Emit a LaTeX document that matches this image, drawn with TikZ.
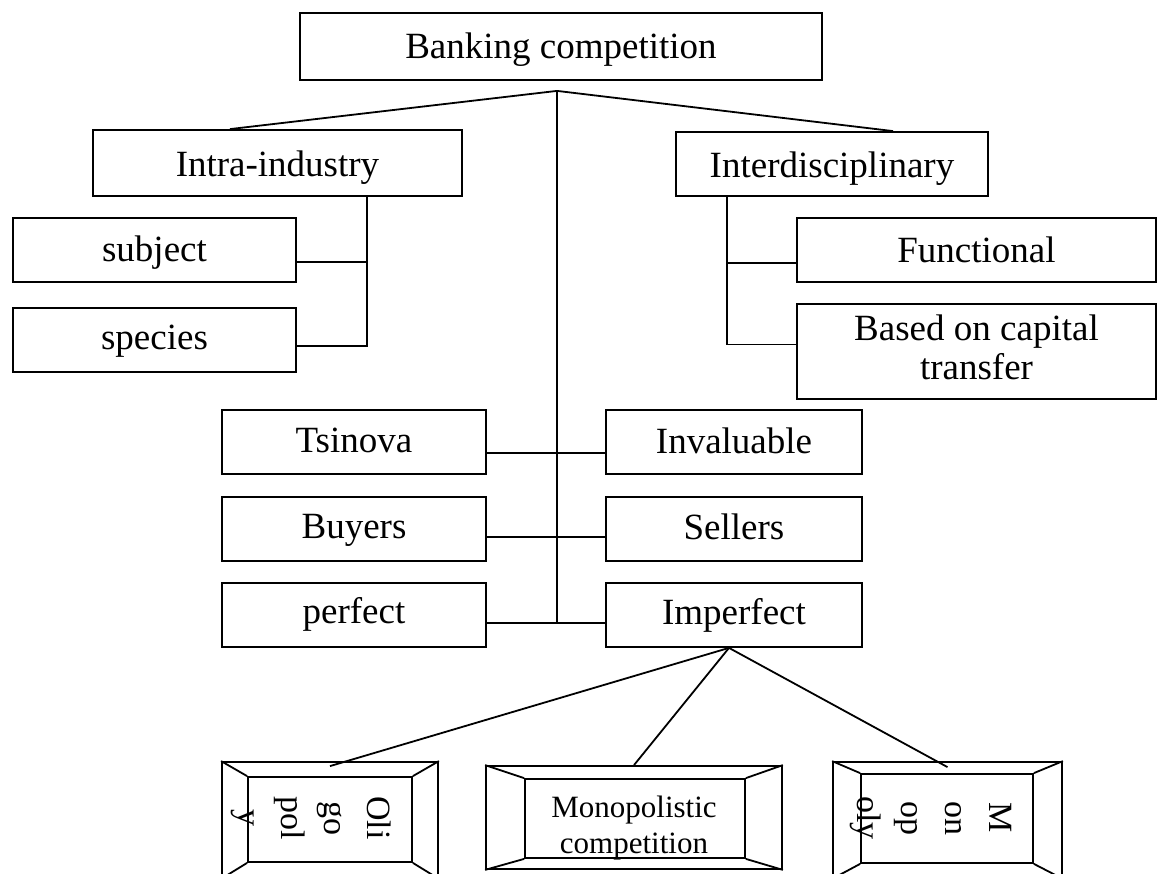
\documentclass[tikz,border=0pt]{standalone}
\usepackage{fontspec}
\setmainfont{Liberation Serif}
\usetikzlibrary{calc}
\begin{document}
\begin{tikzpicture}[x=1pt,y=-1pt,
  box/.style={draw, line width=1.8pt, inner sep=0pt, align=center,
    font=\fontsize{37}{39}\selectfont},
  tb/.style={text height=#1, text depth=2pt},
  tb/.default=26pt,
  link/.style={line width=1.8pt},
  frame/.style={draw, line width=1.8pt, inner sep=0pt},
  vtext/.style={rotate=-90, inner sep=0pt, align=center},
]
\useasboundingbox (0,0) rectangle (1168,874);

% top level
\node[box, tb=27pt, minimum width=522pt, minimum height=67pt] (bank) at (561,46.5) {Banking competition};
\node[box, tb=30pt, minimum width=369pt, minimum height=66pt] (intra) at (277.5,163) {Intra-industry};
\node[box, tb=30pt, minimum width=312pt, minimum height=64pt] (inter) at (832,164) {Interdisciplinary};

% second level
\node[box, tb=26pt, minimum width=283pt, minimum height=64pt] (subj) at (154.5,250) {subject};
\node[box, tb=22pt, minimum width=283pt, minimum height=64pt] (spec) at (154.5,340) {species};
\node[box, tb=28pt, minimum width=359pt, minimum height=64pt] (func) at (976.5,250) {Functional};
\node[box, minimum width=359pt, minimum height=95pt] (based) at (976.5,351.5) {};
\node[inner sep=0pt, align=center, font=\fontsize{37}{39}\selectfont] (basedt)
  at ([yshift=4pt]based.center) {Based on capital\\transfer};

% pairs along the trunk
\node[box, tb=24pt, minimum width=264pt, minimum height=64pt] (tsin) at (354,442) {Tsinova};
\node[box, tb=26pt, minimum width=256pt, minimum height=64pt] (inv)  at (734,442) {Invaluable};
\node[box, tb=20pt, minimum width=264pt, minimum height=64pt] (buy)  at (354,529) {Buyers};
\node[box, tb=22pt, minimum width=256pt, minimum height=64pt] (sell) at (734,529) {Sellers};
\node[box, tb=18pt, minimum width=264pt, minimum height=64pt] (perf) at (354,615) {perfect};
\node[box, tb=20pt, minimum width=256pt, minimum height=64pt] (imp)  at (734,615) {Imperfect};

% bevelled frames of the market forms
\node[frame, minimum width=216pt, minimum height=116pt] (olig) at (330,820) {};
\node[frame, minimum width=164pt, minimum height=85pt] (oligin) at (330,819.5) {};
\node[frame, minimum width=296pt, minimum height=103pt] (mono) at (634,817.5) {};
\node[frame, minimum width=220pt, minimum height=79pt] (monoin) at (635,818.5) {};
\node[frame, minimum width=229pt, minimum height=116pt] (monop) at (947.5,820) {};
\node[frame, minimum width=172pt, minimum height=89pt] (monopin) at (947,818.5) {};
\foreach \o/\i in {olig/oligin, mono/monoin, monop/monopin}{
  \foreach \c in {north west, north east, south west, south east}
    \draw[link] (\o.\c) -- (\i.\c);
}
\node[vtext, font=\fontsize{34}{43}\selectfont] (oligt) at (311,818) {Oli\\go\\pol\\y};
\node[inner sep=0pt, align=center, font=\fontsize{31}{36}\selectfont] (monot) at (634,828) {Monopolistic\\competition};
\node[vtext, font=\fontsize{34}{44}\selectfont] (monopt) at (931,818) {M\\on\\op\\oly};

% trunk and branches from the top
\coordinate (j) at ([xshift=-4pt,yshift=-10pt]bank.south);
\draw[link] (j) -- ([xshift=-47.5pt]intra.north);
\draw[link] (j) -- ([xshift=61pt]inter.north);

% intra-industry branch
\coordinate (iv) at ([xshift=89.5pt]intra.south);
\coordinate (sb) at ([yshift=-12pt]subj.east);
\coordinate (sp) at ([yshift=-6pt]spec.east);
\draw[link] (iv) -- (iv |- sp) -- (sp);
\draw[link] (sb) -- (iv |- sb);

% interdisciplinary branch
\coordinate (rv) at ([xshift=-105pt]inter.south);
\coordinate (fu) at ([yshift=-13pt]func.west);
\coordinate (ba) at ([yshift=7pt]based.west);
\draw[link] (rv) -- (rv |- ba) -- (ba);
\draw[link] (fu) -- (rv |- fu);

% pairs hanging from the trunk
\coordinate (t1) at ([yshift=-11pt]tsin.east);
\coordinate (t2) at ([yshift=-8pt]buy.east);
\coordinate (t3) at ([yshift=-8pt]perf.east);
\draw[link] (j) -- (j |- t3);
\draw[link] (t1) -- (t1 -| inv.west);
\draw[link] (t2) -- (t2 -| sell.west);
\draw[link] (t3) -- (t3 -| imp.west);

% imperfect competition forms
\coordinate (ij) at ([xshift=-5pt]imp.south);
\draw[link] (ij) -- ([yshift=-5pt]olig.north);
\draw[link] (ij) -- (mono.north);
\draw[link] (ij) -- ([yshift=-6pt]monop.north);
\end{tikzpicture}
\end{document}
